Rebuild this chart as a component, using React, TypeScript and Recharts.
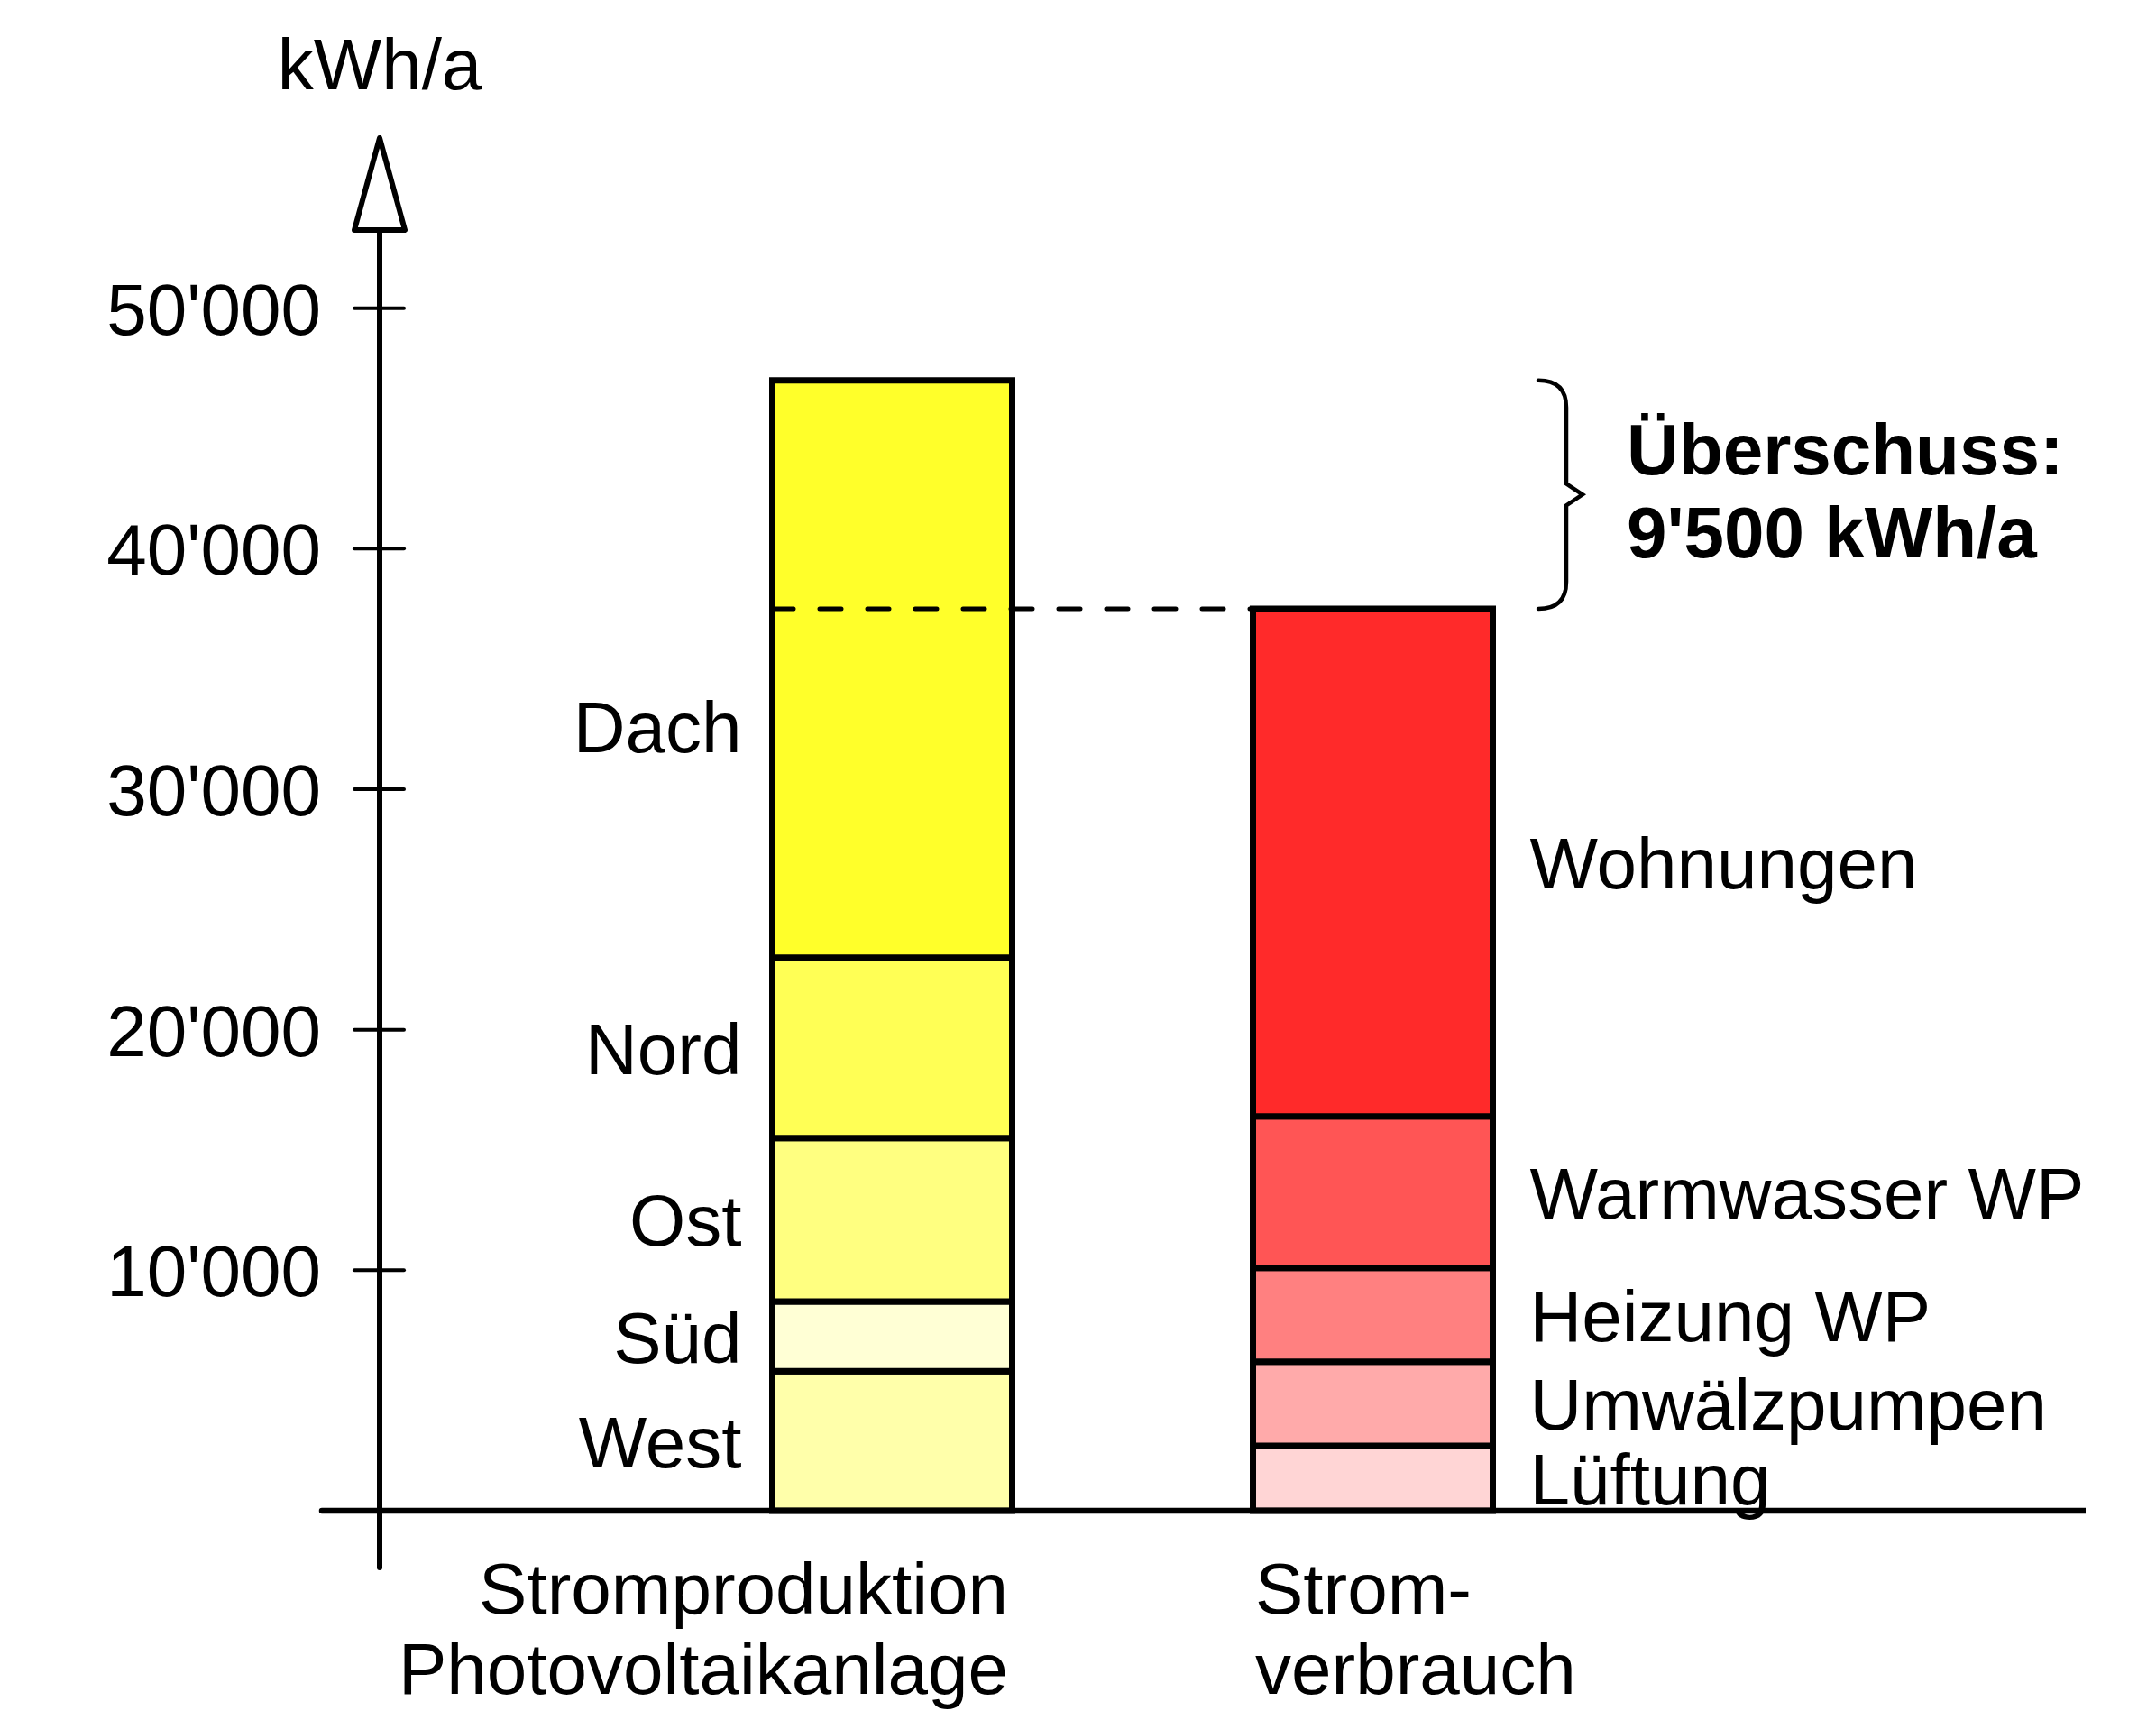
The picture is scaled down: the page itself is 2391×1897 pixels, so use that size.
import { BarChart, Bar, XAxis, YAxis, ReferenceLine, LabelList } from 'recharts';

const categories = ['Stromproduktion\nPhotovoltaikanlage', 'Strom-\nverbrauch'];

const productionKeys = ['West', 'Süd', 'Ost', 'Nord', 'Dach'];
const productionValues = [5800, 2900, 6800, 7500, 24000];
const productionColors = ['#FFFFAA', '#FFFFD5', '#FFFF80', '#FFFF55', '#FFFF2A'];

const consumptionKeys = ['Lüftung', 'Umwälzpumpen', 'Heizung WP', 'Warmwasser WP', 'Wohnungen'];
const consumptionValues = [2700, 3500, 3900, 6300, 21100];
const consumptionColors = ['#FFD5D5', '#FFAAAA', '#FF8080', '#FF5555', '#FF2A2A'];

const yTicks = [0, 10000, 20000, 30000, 40000, 50000];
const yMax = 53250;

const FONT = '"Liberation Sans", Arial, sans-serif';
const FS = 80;
const BAR = 266;

const data = [
  { cat: categories[0], ...Object.fromEntries(productionKeys.map((k, i) => [k, productionValues[i]])) },
  { cat: categories[1], ...Object.fromEntries(consumptionKeys.map((k, i) => [k, consumptionValues[i]])) },
];

const produced = productionValues.reduce((a, b) => a + b, 0);
const consumed = consumptionValues.reduce((a, b) => a + b, 0);
const surplus = produced - consumed;

// swiss style thousands: 50'000
const fmt = (v: number) => String(v).replace(/\B(?=(\d{3})+(?!\d))/g, "'");

// Dach label sits a bit below the middle of its segment
const labelShift: Record<string, number> = { Dach: 63 };

const segLabel = (name: string, side: 'left' | 'right') => (p: any) => {
  const vb = p.viewBox ?? p;
  const { x, y, width, height } = vb;
  if (p.value == null || !height) return null;
  const ty = y + height / 2 + 29 + (labelShift[name] ?? 0);
  return (
    <text
      x={side === 'left' ? x - 34 : x + width + 41}
      y={ty}
      textAnchor={side === 'left' ? 'end' : 'start'}
      fontSize={FS}
      fontFamily={FONT}
      fill="#000"
    >
      {name}
    </text>
  );
};

const YTick = (props: any) => {
  const { x, y, payload } = props;
  if (payload.value === 0) {
    return (
      <g>
        <line x1={x - 64} y1={y} x2={x} y2={y} stroke="#000" strokeWidth={6.5} strokeLinecap="round" />
        <line x1={x} y1={y} x2={x} y2={y + 63} stroke="#000" strokeWidth={6} strokeLinecap="round" />
      </g>
    );
  }
  return (
    <g>
      <line x1={x - 28} y1={y} x2={x + 27} y2={y} stroke="#000" strokeWidth={4} strokeLinecap="round" />
      <text x={x - 65} y={y + 29} textAnchor="end" fontSize={FS} fontFamily={FONT} fill="#000">
        {fmt(payload.value)}
      </text>
    </g>
  );
};

const CatTick = (props: any) => {
  const { x, y, payload } = props;
  const lines = String(payload.value).split('\n');
  const first = categories.indexOf(payload.value) === 0;
  const tx = first ? x + BAR / 2 - 4 : x - BAR / 2 + 3;
  return (
    <text textAnchor={first ? 'end' : 'start'} fontSize={FS} fontFamily={FONT} fill="#000">
      {lines.map((l, i) => (
        <tspan key={i} x={tx} y={y + 114 + i * 89}>
          {l}
        </tspan>
      ))}
    </text>
  );
};

const AxisArrow = (p: any) => {
  const { x, y, width } = p.viewBox;
  const ax = x + width;
  return (
    <g>
      <path
        d={`M${ax},${y - 102} L${ax + 28},${y} L${ax - 28},${y} Z`}
        fill="#fff"
        stroke="#000"
        strokeWidth={6}
        strokeLinejoin="round"
      />
      <text x={ax} y={y - 156} textAnchor="middle" fontSize={FS} fontFamily={FONT} fill="#000">
        kWh/a
      </text>
    </g>
  );
};

const dashShape = (p: any) => (
  <line
    x1={p.x1 - BAR / 2}
    y1={p.y1}
    x2={p.x2 - BAR / 2}
    y2={p.y2}
    stroke="#000"
    strokeWidth={5}
    strokeDasharray="24 29"
    strokeLinecap="round"
  />
);

const braceShape = (p: any) => {
  const top = Math.min(p.y1, p.y2);
  const bot = Math.max(p.y1, p.y2);
  const mid = (top + bot) / 2;
  const x0 = p.x1 + 184;
  const xv = p.x1 + 215;
  const xt = p.x1 + 233;
  const d = `M${x0},${top} Q${xv},${top} ${xv},${top + 30} L${xv},${mid - 12} L${xt},${mid} L${xv},${mid + 12} L${xv},${bot - 30} Q${xv},${bot} ${x0},${bot}`;
  return (
    <g>
      <path d={d} fill="none" stroke="#000" strokeWidth={4.5} strokeLinecap="round" />
      <text x={p.x1 + 282} y={mid - 22} fontSize={FS} fontWeight="bold" fontFamily={FONT} fill="#000">
        Überschuss:
      </text>
      <text x={p.x1 + 282} y={mid + 70} fontSize={FS} fontWeight="bold" fontFamily={FONT} fill="#000">
        {fmt(surplus)} kWh/a
      </text>
    </g>
  );
};

export default function App() {
  return (
    <div style={{ position: 'absolute', left: 0, top: 0, width: 2391, height: 1897, background: '#fff' }}>
      <BarChart width={2391} height={1897} data={data} margin={{ top: 255, right: 78, bottom: 0, left: 0 }}>
        <XAxis
          dataKey="cat"
          height={222}
          padding={{ left: 301.5, right: 524.5 }}
          axisLine={{ stroke: '#000', strokeWidth: 6.5 }}
          tickLine={false}
          tickSize={0}
          tickMargin={0}
          tick={<CatTick />}
          interval={0}
        />
        <YAxis
          width={421}
          domain={[0, yMax]}
          ticks={yTicks}
          interval={0}
          axisLine={{ stroke: '#000', strokeWidth: 6 }}
          tickLine={false}
          tickSize={0}
          tickMargin={0}
          tick={<YTick />}
          label={{ content: AxisArrow }}
        />
        {productionKeys.map((k, i) => (
          <Bar
            key={k}
            dataKey={k}
            stackId="s"
            barSize={BAR}
            fill={productionColors[i]}
            stroke="#000"
            strokeWidth={7}
            isAnimationActive={false}
          >
            <LabelList dataKey={k} content={segLabel(k, 'left')} />
          </Bar>
        ))}
        {consumptionKeys.map((k, i) => (
          <Bar
            key={k}
            dataKey={k}
            stackId="s"
            barSize={BAR}
            fill={consumptionColors[i]}
            stroke="#000"
            strokeWidth={7}
            isAnimationActive={false}
          >
            <LabelList dataKey={k} content={segLabel(k, 'right')} />
          </Bar>
        ))}
        <ReferenceLine
          segment={[
            { x: categories[0], y: consumed },
            { x: categories[1], y: consumed },
          ]}
          shape={dashShape}
        />
        <ReferenceLine
          segment={[
            { x: categories[1], y: consumed },
            { x: categories[1], y: produced },
          ]}
          shape={braceShape}
        />
      </BarChart>
    </div>
  );
}
